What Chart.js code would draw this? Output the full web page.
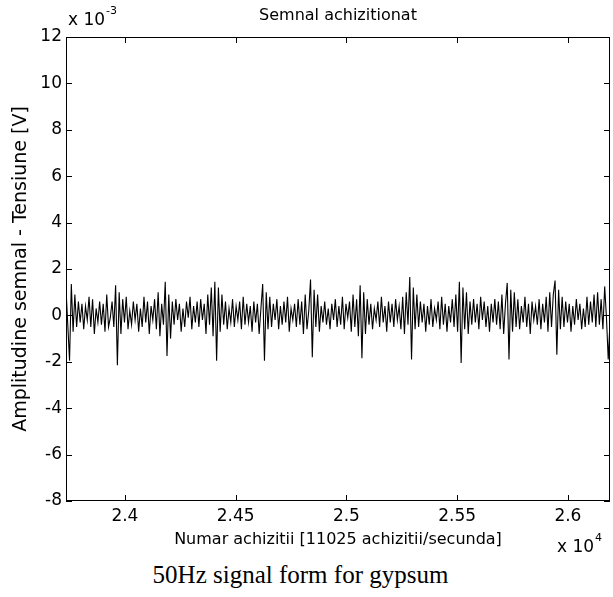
<!DOCTYPE html>
<html lang="ro">
<head>
  <meta charset="UTF-8">
  <title>Semnal achizitionat</title>
  <script src="https://cdn.jsdelivr.net/npm/chart.js"></script>
  <style>
    html, body { margin: 0; padding: 0; background: #fff; }
    .wrap { position: relative; width: 613px; height: 555px; }
    .caption { width: 601px; text-align: center; font-family: "Liberation Serif", serif; font-size: 25px; line-height: 40px; color: #000; }
  </style>
</head>
<body>
  <div class="wrap"><canvas id="signalChart"></canvas></div>
  <div class="caption">50Hz signal form for gypsum</div>

  <script>
    // esantioane: prima achizitie si pasul intre punctele citite
    const startSample = 23734;
    const sampleStep = 8;

    // amplitudine in unitati de 10^-3 V
    const signalMv = [
      1.15, -0.4, -1.95, 1.35, -0.7, 0.9, -0.5, 0.6, -0.3, 0.5,
      -0.6, 0.4, -0.2, 0.8, -0.5, 0.7, -0.8, 0.3, -0.3, 0.6,
      -0.4, 0.5, -0.7, 0.9, -0.5, -0.1, 0.6, -0.5, 1.3, -2.15,
      1.0, -0.8, 0.7, -0.3, 0.8, -0.6, 0.2, -0.4, 0.6, -0.2,
      0.5, -0.7, 0.3, -0.5, 0.8, -0.3, 0.6, -0.8, 0.4, -0.2,
      0.7, -0.6, 1.0, -0.9, 0.5, -0.4, 1.45, -1.75, 0.9, -1.0,
      0.6, -0.4, 0.7, -0.2, 0.5, -0.7, 0.3, -0.5, 0.6, -0.1,
      0.8, -0.6, 0.4, -0.3, 0.6, -0.5, 0.7, -0.2, 0.5, -0.8,
      0.9, -0.4, 1.2, -0.9, 1.45, -1.95, 1.2, -0.7, 0.9, -0.4,
      0.6, -0.6, 0.3, -0.3, 0.7, -0.5, 0.4, -0.2, 0.6, -0.6,
      0.8, -0.4, 0.5, -0.3, 0.4, -0.7, 0.6, -0.3, 0.5, -0.8,
      0.3, 1.35, -1.95, 1.0, -0.6, 0.8, -0.5, 0.5, -0.2, 0.7,
      -0.6, 0.4, -0.4, 0.6, -0.3, 0.8, -0.7, 0.3, -0.2, 0.5,
      -0.5, 0.7, -0.4, 0.6, -0.8, 0.9, -0.6, 0.2, 1.55, -1.8,
      1.1, -0.5, 0.9, -0.7, 0.4, -0.3, 0.6, -0.4, 0.3, -0.6,
      0.5, -0.2, 0.7, -0.5, 0.4, -0.4, 0.8, -0.6, 0.5, -0.1,
      0.6, -0.7, 0.9, -0.5, 0.7, -0.9, 1.3, -1.85, 1.0, -0.8,
      0.7, -0.4, 0.5, -0.6, 0.3, -0.2, 0.6, -0.5, 0.8, -0.3,
      0.4, -0.7, 0.6, -0.3, 0.5, -0.5, 0.7, -0.2, 0.4, -0.6,
      0.8, -0.8, 1.0, -0.4, 1.65, -1.9, 1.2, -0.6, 0.9, -0.5,
      0.6, -0.3, 0.5, -0.7, 0.4, -0.4, 0.7, -0.5, 0.3, -0.2,
      0.6, -0.6, 0.8, -0.4, 0.5, -0.7, 0.4, -0.3, 0.7, -0.5,
      0.9, -0.7, 1.45, -2.05, 1.2, -0.6, 1.0, -0.8, 0.6, -0.4,
      0.7, -0.3, 0.5, -0.6, 0.8, -0.2, 0.6, -0.5, 0.4, -0.7,
      0.5, -0.3, 0.7, -0.4, 0.6, -0.6, 0.9, -0.8, 0.5, 1.4,
      -1.9, 1.1, -0.7, 1.0, -0.5, 0.7, -0.6, 0.4, -0.3, 0.8,
      -0.5, 0.5, -0.8, 0.6, -0.2, 0.4, -0.4, 0.7, -0.6, 0.5,
      -0.3, 0.8, -0.7, 1.0, -0.5, 0.9, 1.5, -1.7, 1.1, -0.6,
      0.8, -0.5, 0.6, -0.3, 0.5, -0.7, 0.4, -0.4, 0.7, -0.2,
      0.5, -0.6, 0.3, -0.5, 0.8, -0.4, 0.6, -0.3, 0.9, -0.5,
      1.0, -0.4, 0.7, -0.6, 1.25, -0.1, -1.9, -0.3
    ];

    const xMin = 23734;
    const xMax = 26190;
    const yMin = -8;
    const yMax = 12;
    const xTicks = [24000, 24500, 25000, 25500, 26000];
    const yTicks = [-8, -6, -4, -2, 0, 2, 4, 6, 8, 10, 12];

    const points = signalMv.map((v, i) => ({ x: startSample + i * sampleStep, y: v }));

    const axisFont = { family: 'DejaVu Sans', size: 17 };

    // rama, gradatiile spre interior si textele de deasupra axelor, ca in MATLAB
    const boxPlugin = {
      id: 'matlabBox',
      afterDraw(chart) {
        const { ctx, chartArea: a, scales: { x, y } } = chart;
        ctx.save();
        ctx.strokeStyle = '#000';
        ctx.lineWidth = 1;
        ctx.strokeRect(a.left + 0.5, a.top + 0.5, a.right - a.left - 1, a.bottom - a.top - 1);
        ctx.beginPath();
        xTicks.forEach(v => {
          const px = Math.round(x.getPixelForValue(v)) + 0.5;
          ctx.moveTo(px, a.bottom); ctx.lineTo(px, a.bottom - 6);
          ctx.moveTo(px, a.top); ctx.lineTo(px, a.top + 6);
        });
        yTicks.forEach(v => {
          const py = Math.round(y.getPixelForValue(v)) + 0.5;
          ctx.moveTo(a.left, py); ctx.lineTo(a.left + 6, py);
          ctx.moveTo(a.right, py); ctx.lineTo(a.right - 6, py);
        });
        ctx.stroke();

        ctx.fillStyle = '#000';
        // titlul, centrat pe axe
        ctx.font = '16px "DejaVu Sans"';
        ctx.textAlign = 'center';
        ctx.textBaseline = 'middle';
        ctx.fillText('Semnal achizitionat', (a.left + a.right) / 2, 16);

        // exponentii axelor
        ctx.textAlign = 'left';
        ctx.textBaseline = 'alphabetic';
        ctx.font = '17px "DejaVu Sans"';
        ctx.fillText('x 10', a.left + 2, a.top - 12);
        let w = ctx.measureText('x 10').width;
        ctx.font = '11px "DejaVu Sans"';
        ctx.fillText('-3', a.left + 2 + w + 1, a.top - 23);

        ctx.font = '17px "DejaVu Sans"';
        ctx.fillText('x 10', 557, 552);
        w = ctx.measureText('x 10').width;
        ctx.font = '11px "DejaVu Sans"';
        ctx.fillText('4', 557 + w + 1, 541);
        ctx.restore();
      }
    };

    new Chart(document.getElementById('signalChart').getContext('2d'), {
      type: 'line',
      data: {
        datasets: [{
          label: 'Semnal',
          data: points,
          borderColor: '#000',
          borderWidth: 1.1,
          pointRadius: 0,
          tension: 0,
          fill: false
        }]
      },
      options: {
        responsive: true,
        maintainAspectRatio: false,
        animation: false,
        layout: { padding: { left: 0, right: 3, top: 37, bottom: 0 } },
        plugins: {
          legend: { display: false },
          tooltip: { enabled: false },
          title: { display: false }
        },
        scales: {
          x: {
            type: 'linear',
            min: xMin,
            max: xMax,
            grid: { display: false, drawTicks: false },
            border: { display: false },
            afterBuildTicks: s => { s.ticks = xTicks.map(v => ({ value: v })); },
            afterFit: s => { s.height = 54; },
            ticks: {
              color: '#000',
              font: axisFont,
              padding: 5,
              maxRotation: 0,
              callback: v => String(v / 10000)
            },
            title: {
              display: true,
              text: 'Numar achizitii [11025 achizitii/secunda]',
              color: '#000',
              font: { family: 'DejaVu Sans', size: 16 },
              padding: { top: 0, bottom: 6 }
            }
          },
          y: {
            min: yMin,
            max: yMax,
            grid: { display: false, drawTicks: false },
            border: { display: false },
            afterBuildTicks: s => { s.ticks = yTicks.map(v => ({ value: v })); },
            afterFit: s => { s.width = 66; },
            ticks: { color: '#000', font: axisFont, padding: 4 },
            title: {
              display: true,
              text: 'Amplitudine semnal - Tensiune [V]',
              color: '#000',
              font: { family: 'DejaVu Sans', size: 19 },
              padding: { top: 10, bottom: 0 }
            }
          }
        }
      },
      plugins: [boxPlugin]
    });
  </script>
</body>
</html>
